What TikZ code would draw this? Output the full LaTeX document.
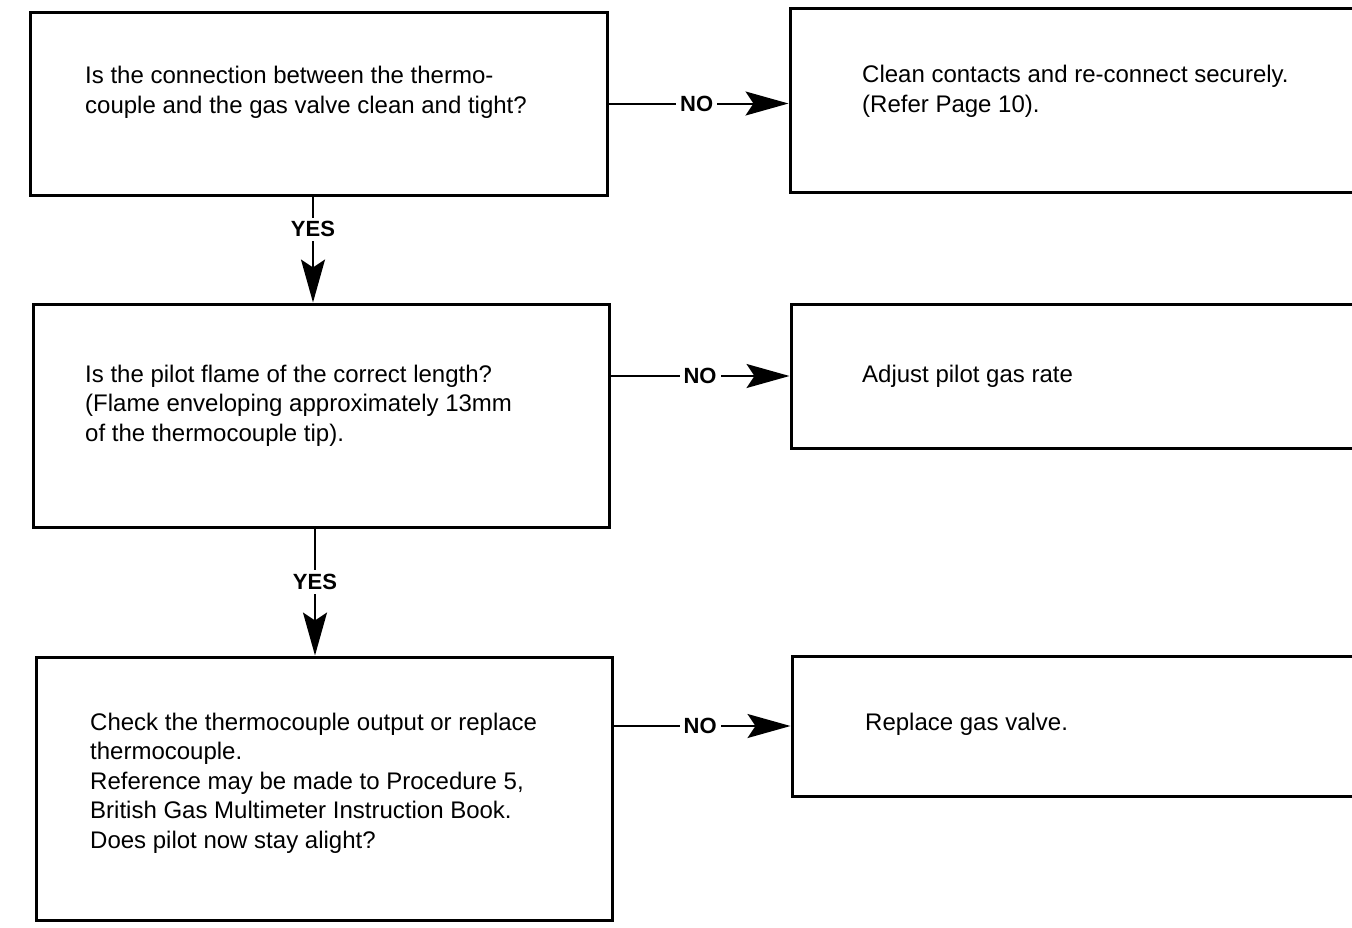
\documentclass[tikz,border=0pt]{standalone}
\usepackage{fontspec}
\setmainfont{Liberation Sans}
\usetikzlibrary{arrows.meta}
\begin{document}
\begin{tikzpicture}[x=1pt,y=-1pt,
  box/.style={draw,line width=3pt},
  txt/.style={anchor=base west,inner sep=0pt,align=left,font=\fontsize{24}{29.5}\selectfont},
  lbl/.style={font=\bfseries\fontsize{22}{24}\selectfont,fill=white,inner sep=4pt},
  conn/.style={line width=2pt,-{Stealth[length=43pt,width=24pt,inset=8pt]}}]
\useasboundingbox (0,0) rectangle (1352,927);
\clip (0,0) rectangle (1352,927);
% left boxes
\node[box,minimum width=577pt,minimum height=183pt] (A) at (318.5,103.5) {};
\node[box,minimum width=576pt,minimum height=223pt] (C) at (321,415.5) {};
\node[box,minimum width=576pt,minimum height=263pt] (E) at (324,788.5) {};
% right boxes (run off the right edge)
\node[box,minimum width=600pt,minimum height=184pt] (B) at (1090,100) {};
\node[box,minimum width=600pt,minimum height=144pt] (D) at (1091,376) {};
\node[box,minimum width=600pt,minimum height=140pt] (F) at (1092,726) {};
% texts (anchored at the baseline of the last line)
\node[txt] (tA) at (85,113) {Is the connection between the thermo-\\couple and the gas valve clean and tight?};
\node[txt] (tB) at (862,112) {Clean contacts and re-connect securely.\\(Refer Page 10).};
\node[txt] (tC) at (85,441) {Is the pilot flame of the correct length?\\(Flame enveloping approximately 13mm\\of the thermocouple tip).};
\node[txt] (tD) at (862,382) {Adjust pilot gas rate};
\node[txt] (tE) at (90,848) {Check the thermocouple output or replace\\thermocouple.\\Reference may be made to Procedure 5,\\British Gas Multimeter Instruction Book.\\Does pilot now stay alight?};
\node[txt] (tF) at (865,730) {Replace gas valve.};
% connectors
\draw[conn] (A.east) -- node[lbl,pos=0.49] (n1) {NO} (A.east -| B.west);
\draw[conn] (C.east |- D.west) -- node[lbl,pos=0.5] (n2) {NO} (D.west);
\draw[conn] (E.east |- F.west) -- node[lbl,pos=0.49] (n3) {NO} (F.west);
\draw[conn] (A.south -| 313,0) -- node[lbl,pos=0.31] (y1) {YES} (C.north -| 313,0);
\draw[conn] (C.south -| 315,0) -- node[lbl,pos=0.42] (y2) {YES} (E.north -| 315,0);
\end{tikzpicture}
\end{document}
